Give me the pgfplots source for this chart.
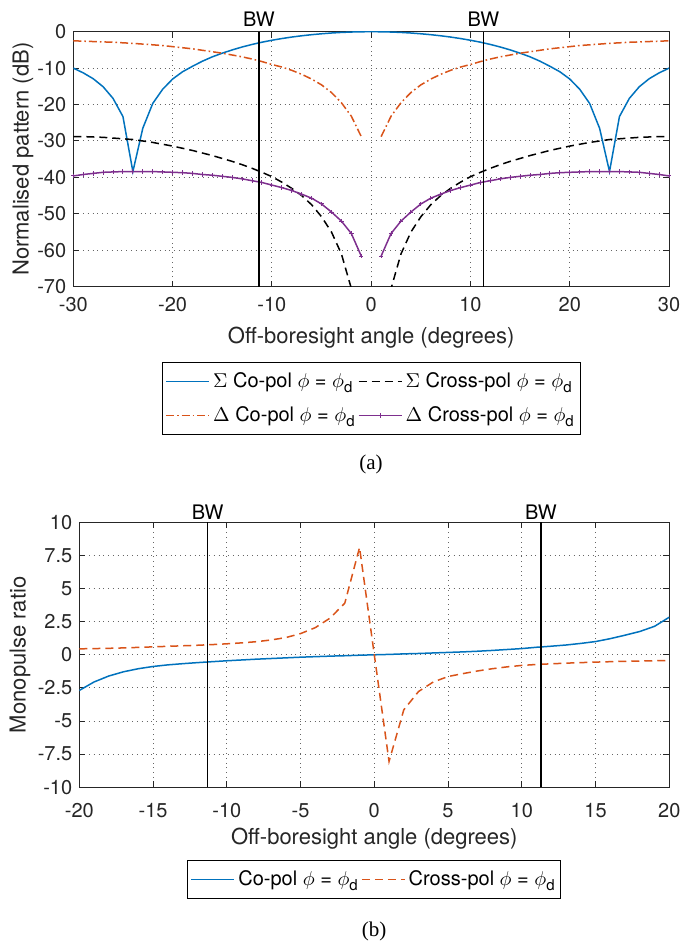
\documentclass[border=0pt]{standalone}
\usepackage{fontspec}
\setmainfont{TeX Gyre Heros}
\newfontfamily\captionfont{Liberation Serif}
\usepackage{pgfplots}
\pgfplotsset{compat=1.18}
\definecolor{mblue}{rgb}{0,0.447,0.741}
\definecolor{morange}{rgb}{0.85,0.325,0.098}
\definecolor{mpurple}{rgb}{0.494,0.184,0.556}
\definecolor{axgray}{rgb}{0.15,0.15,0.15}
\newcommand{\sub}{\raisebox{-0.45ex}{\fontsize{7.5}{8}\selectfont d}}
\pgfplotsset{
  mstyle/.style={
    scale only axis,
    anchor=north west,
    axis line style={axgray, line width=0.5pt},
    every tick/.style={axgray, line width=0.5pt},
    major tick length=3pt,
    tick align=inside,
    xtick pos=both, ytick pos=both,
    grid=major,
    major grid style={dotted, black!60, line width=0.5pt},
    tick label style={font=\fontsize{10}{12}\selectfont, text=axgray},
    label style={font=\fontsize{11}{13}\selectfont, text=axgray},
    /pgf/number format/assume math mode=true,
    unbounded coords=jump,
    legend style={font=\fontsize{10}{12}\selectfont, draw=black, line width=0.5pt,
      inner xsep=1.5pt, inner ysep=1pt, nodes={inner xsep=1.6pt, inner ysep=4pt}, anchor=north},
    legend cell align=left,
    legend image code/.code={\draw[mark repeat=2,mark phase=2,#1] plot coordinates {(0pt,0pt) (10.75pt,0pt) (21.5pt,0pt)};},
  },
  bwline/.style={black, line width=0.8pt, forget plot},
}
\begin{document}
\begin{tikzpicture}
\useasboundingbox (0,0) rectangle (340pt,-471pt);
% ---------------- (a) ----------------
\begin{axis}[mstyle,
  at={(36.65pt,-15.85pt)}, width=297.9pt, height=127.5pt,
  xmin=-30, xmax=30, ymin=-70, ymax=0,
  xtick={-30,-20,...,30}, ytick={-70,-60,...,0},
  xticklabel style={yshift=-2pt},
  xlabel={Off-boresight angle (degrees)},
  ylabel={Normalised pattern (dB)},
  xlabel style={at={([yshift=-25.5pt]axis description cs:0.5,0)}, anchor=center},
  ylabel style={at={([xshift=-25.2pt]axis description cs:0,0.5)}, anchor=center},
  legend columns=2,
  legend style={at={(0.5,-0.2953)}},
]
\addplot[mblue, line width=0.75pt] coordinates {
(-30,-10.0) (-29,-11.3) (-28,-12.9) (-27,-15.1) (-26,-18.3) (-25,-23.3) (-24,-38.4) (-23,-26.5) (-22,-19.7) (-21,-15.8)
(-20,-13.0) (-19,-11.0) (-18,-9.5) (-17,-8.1) (-16,-6.9) (-15,-5.9) (-14,-5.0) (-13,-4.2) (-12,-3.5) (-11,-2.88)
(-10,-2.35) (-9,-1.88) (-8,-1.47) (-7,-1.12) (-6,-0.82) (-5,-0.57) (-4,-0.36) (-3,-0.2) (-2,-0.09) (-1,-0.02)
(0,0)
(1,-0.02) (2,-0.09) (3,-0.2) (4,-0.36) (5,-0.57) (6,-0.82) (7,-1.12) (8,-1.47) (9,-1.88) (10,-2.35)
(11,-2.88) (12,-3.5) (13,-4.2) (14,-5.0) (15,-5.9) (16,-6.9) (17,-8.1) (18,-9.5) (19,-11.0) (20,-13.0)
(21,-15.8) (22,-19.7) (23,-26.5) (24,-38.4) (25,-23.3) (26,-18.3) (27,-15.1) (28,-12.9) (29,-11.3) (30,-10.0)
};
\addlegendentry{$\Sigma$ Co-pol $\phi$ = $\phi$\sub}
\addplot[black, line width=0.75pt, dash pattern=on 4pt off 2.5pt] coordinates {
(-30,-28.8) (-29,-28.8) (-28,-28.9) (-27,-29.0) (-26,-29.2) (-25,-29.4) (-24,-29.6) (-23,-30.0) (-22,-30.4) (-21,-30.9)
(-20,-31.4) (-19,-32.0) (-18,-32.6) (-17,-33.3) (-16,-34.0) (-15,-34.8) (-14,-35.6) (-13,-36.5) (-12,-37.5) (-11,-38.6)
(-10,-39.8) (-9,-41.3) (-8,-43.0) (-7,-45.0) (-6,-47.5) (-5,-50.8) (-4,-55.0) (-3,-61.0) (-2,-70.5) (-1,-82.0)
(0,nan)
(1,-82.0) (2,-70.5) (3,-61.0) (4,-55.0) (5,-50.8) (6,-47.5) (7,-45.0) (8,-43.0) (9,-41.3) (10,-39.8)
(11,-38.6) (12,-37.5) (13,-36.5) (14,-35.6) (15,-34.8) (16,-34.0) (17,-33.3) (18,-32.6) (19,-32.0) (20,-31.4)
(21,-30.9) (22,-30.4) (23,-30.0) (24,-29.6) (25,-29.4) (26,-29.2) (27,-29.0) (28,-28.9) (29,-28.8) (30,-28.8)
};
\addlegendentry{$\Sigma$ Cross-pol $\phi$ = $\phi$\sub}
\addplot[morange, line width=0.75pt, dash pattern=on 4pt off 1.5pt on 0.8pt off 1.5pt] coordinates {
(-30,-2.5) (-29,-2.6) (-28,-2.7) (-27,-2.8) (-26,-2.9) (-25,-3.05) (-24,-3.2) (-23,-3.4) (-22,-3.6) (-21,-3.8)
(-20,-4.1) (-19,-4.4) (-18,-4.7) (-17,-5.1) (-16,-5.5) (-15,-5.9) (-14,-6.4) (-13,-6.9) (-12,-7.5) (-11,-8.2)
(-10,-9.0) (-9,-9.7) (-8,-10.6) (-7,-11.7) (-6,-13.0) (-5,-14.6) (-4,-16.7) (-3,-19.5) (-2,-23.2) (-1,-28.8)
(0,nan)
(1,-28.8) (2,-23.2) (3,-19.5) (4,-16.7) (5,-14.6) (6,-13.0) (7,-11.7) (8,-10.6) (9,-9.7) (10,-9.0)
(11,-8.2) (12,-7.5) (13,-6.9) (14,-6.4) (15,-5.9) (16,-5.5) (17,-5.1) (18,-4.7) (19,-4.4) (20,-4.1)
(21,-3.8) (22,-3.6) (23,-3.4) (24,-3.2) (25,-3.05) (26,-2.9) (27,-2.8) (28,-2.7) (29,-2.6) (30,-2.5)
};
\addlegendentry{$\Delta$ Co-pol $\phi$ = $\phi$\sub}
\addplot[mpurple, line width=0.75pt, mark=+, mark size=1.1pt, mark options={line width=0.5pt}] coordinates {
(-30,-39.6) (-29,-39.2) (-28,-38.9) (-27,-38.6) (-26,-38.5) (-25,-38.4) (-24,-38.4) (-23,-38.4) (-22,-38.4) (-21,-38.5)
(-20,-38.6) (-19,-38.7) (-18,-38.9) (-17,-39.2) (-16,-39.4) (-15,-39.7) (-14,-40.0) (-13,-40.4) (-12,-40.9) (-11,-41.4)
(-10,-42.1) (-9,-42.8) (-8,-43.6) (-7,-44.6) (-6,-45.7) (-5,-47.3) (-4,-49.5) (-3,-52.0) (-2,-55.4) (-1,-61.6)
(0,nan)
(1,-61.6) (2,-55.4) (3,-52.0) (4,-49.5) (5,-47.3) (6,-45.7) (7,-44.6) (8,-43.6) (9,-42.8) (10,-42.1)
(11,-41.4) (12,-40.9) (13,-40.4) (14,-40.0) (15,-39.7) (16,-39.4) (17,-39.2) (18,-38.9) (19,-38.7) (20,-38.6)
(21,-38.5) (22,-38.4) (23,-38.4) (24,-38.4) (25,-38.4) (26,-38.5) (27,-38.6) (28,-38.9) (29,-39.2) (30,-39.6)
};
\addlegendentry{$\Delta$ Cross-pol $\phi$ = $\phi$\sub}
\addplot[bwline] coordinates {(-11.3,-70) (-11.3,0)};
\addplot[bwline] coordinates {(11.3,-70) (11.3,0)};
\coordinate (bwa1) at (axis cs:-11.3,0);
\coordinate (bwa2) at (axis cs:11.3,0);
\end{axis}
\node[anchor=base, inner sep=0pt, font=\fontsize{10}{12}\selectfont] at ([yshift=2.5pt]bwa1) {BW};
\node[anchor=base, inner sep=0pt, font=\fontsize{10}{12}\selectfont] at ([yshift=2.5pt]bwa2) {BW};
\node[font=\captionfont\fontsize{10.5}{12}\selectfont] at (185.5pt,-232pt) {(a)};
% ---------------- (b) ----------------
\begin{axis}[mstyle,
  at={(39.65pt,-261.15pt)}, width=295pt, height=132.5pt,
  xmin=-20, xmax=20, ymin=-10, ymax=10,
  xtick={-20,-15,...,20}, ytick={-10,-7.5,-5,-2.5,0,2.5,5,7.5,10},
  xticklabel style={yshift=-4.6pt},
  xlabel={Off-boresight angle (degrees)},
  ylabel={Monopulse ratio},
  xlabel style={at={([yshift=-25.5pt]axis description cs:0.5,0)}, anchor=center},
  ylabel style={at={([xshift=-29.65pt]axis description cs:0,0.5)}, anchor=center},
  legend columns=2,
  legend style={at={(0.5,-0.2743)}},
]
\addplot[mblue, line width=0.75pt] coordinates {
(-20,-2.69) (-19,-2.05) (-18,-1.6) (-17,-1.28) (-16,-1.05) (-15,-0.88) (-14,-0.76) (-13,-0.67) (-12,-0.59) (-11,-0.52)
(-10,-0.45) (-9,-0.39) (-8,-0.33) (-7,-0.28) (-6,-0.23) (-5,-0.18) (-4,-0.14) (-3,-0.1) (-2,-0.07) (-1,-0.03)
(0,0)
(1,0.03) (2,0.07) (3,0.1) (4,0.14) (5,0.18) (6,0.22) (7,0.27) (8,0.33) (9,0.4) (10,0.47)
(11,0.57) (12,0.65) (13,0.74) (14,0.86) (15,1.0) (16,1.22) (17,1.48) (18,1.76) (19,2.15) (20,2.84)
};
\addlegendentry{Co-pol $\phi$ = $\phi$\sub}
\addplot[morange, line width=0.75pt, dash pattern=on 4pt off 2.5pt] coordinates {
(-20,0.45) (-19,0.47) (-18,0.49) (-17,0.52) (-16,0.56) (-15,0.6) (-14,0.64) (-13,0.68) (-12,0.72) (-11,0.77)
(-10,0.83) (-9,0.9) (-8,0.99) (-7,1.12) (-6,1.3) (-5,1.6) (-4,2.05) (-3,2.77) (-2,3.9) (-1,8.1)
(0,0)
(1,-8.05) (2,-4.15) (3,-2.77) (4,-2.05) (5,-1.64) (6,-1.42) (7,-1.22) (8,-1.05) (9,-0.91) (10,-0.8)
(11,-0.73) (12,-0.68) (13,-0.63) (14,-0.59) (15,-0.55) (16,-0.52) (17,-0.49) (18,-0.47) (19,-0.45) (20,-0.43)
};
\addlegendentry{Cross-pol $\phi$ = $\phi$\sub}
\addplot[bwline] coordinates {(-11.3,-10) (-11.3,10)};
\addplot[bwline] coordinates {(11.3,-10) (11.3,10)};
\coordinate (bwb1) at (axis cs:-11.3,10);
\coordinate (bwb2) at (axis cs:11.3,10);
\end{axis}
\node[anchor=base, inner sep=0pt, font=\fontsize{10}{12}\selectfont] at ([yshift=1.2pt]bwb1) {BW};
\node[anchor=base, inner sep=0pt, font=\fontsize{10}{12}\selectfont] at ([yshift=1.2pt]bwb2) {BW};
\node[font=\captionfont\fontsize{10.5}{12}\selectfont] at (187pt,-465.5pt) {(b)};
\end{tikzpicture}
\end{document}
